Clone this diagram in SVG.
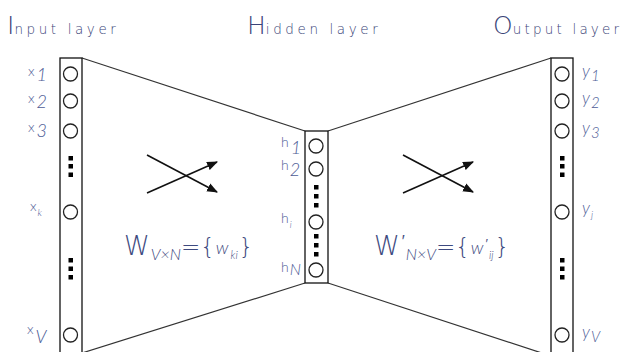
<svg xmlns="http://www.w3.org/2000/svg" width="629" height="352" viewBox="0 0 629 352">
<defs>
<marker id="ah" viewBox="0 0 10 8" refX="9" refY="4" markerWidth="11" markerHeight="9" markerUnits="userSpaceOnUse" orient="auto">
<path d="M0,0 L10,4 L0,8 Z" fill="#111"/>
</marker>
<style>
.box{fill:#fff;stroke:#111;stroke-width:1.3}
.nd{fill:#fff;stroke:#222;stroke-width:1.3}
.dot{fill:#000}
.edge{stroke:#333;stroke-width:1.2;fill:none}
.cross{stroke:#111;stroke-width:1.6;fill:none}
.title{font-family:"DejaVu Sans","Liberation Sans",sans-serif;font-weight:300;fill:#3a4478}
.lbl{font-family:Lato,"Liberation Sans",sans-serif;font-weight:300;fill:#4e5c96}
.it{font-style:italic;font-family:Lato,"Liberation Sans",sans-serif;font-weight:300}
.frm{font-family:"DejaVu Sans","Liberation Sans",sans-serif;font-weight:300;fill:#3e4a80}
</style>
</defs>
<rect width="629" height="352" fill="#fff"/>

<g id="connectors">
<line class="edge" x1="82" y1="58" x2="305" y2="131"/>
<line class="edge" x1="328" y1="131" x2="551" y2="58"/>
<line class="edge" x1="305" y1="283" x2="82" y2="353"/>
<line class="edge" x1="328" y1="283" x2="551" y2="356"/>
<line class="cross" x1="147" y1="155" x2="217" y2="192" marker-end="url(#ah)"/>
<line class="cross" x1="147" y1="193" x2="217" y2="162" marker-end="url(#ah)"/>
<line class="cross" x1="403" y1="155" x2="473" y2="192" marker-end="url(#ah)"/>
<line class="cross" x1="403" y1="193" x2="473" y2="162" marker-end="url(#ah)"/>
</g>

<g id="titles">
<text class="title" x="7" y="34"><tspan font-size="25">I</tspan><tspan font-size="13.5" letter-spacing="3.6">nput layer</tspan></text>
<text class="title" x="247" y="34"><tspan font-size="25">H</tspan><tspan font-size="13.5" letter-spacing="3.6">idden layer</tspan></text>
<text class="title" x="493" y="34"><tspan font-size="25">O</tspan><tspan font-size="13.5" letter-spacing="3.2">utput layer</tspan></text>
</g>

<g id="input-layer">
<rect class="box" x="60" y="58" width="22" height="300"/>
<circle class="nd" cx="70.5" cy="74" r="7"/>
<circle class="nd" cx="70.5" cy="101" r="7"/>
<circle class="nd" cx="70.5" cy="131" r="7"/>
<rect class="dot" x="68.5" y="156" width="4.5" height="4.5"/>
<rect class="dot" x="68.5" y="164" width="4.5" height="4.5"/>
<rect class="dot" x="68.5" y="172.5" width="4.5" height="4.5"/>
<circle class="nd" cx="70.5" cy="212" r="7"/>
<rect class="dot" x="68.5" y="258" width="4.5" height="4.5"/>
<rect class="dot" x="68.5" y="266.5" width="4.5" height="4.5"/>
<rect class="dot" x="68.5" y="275" width="4.5" height="4.5"/>
<circle class="nd" cx="70.5" cy="335" r="7"/>
<text class="lbl" x="28" y="76" font-size="14">x<tspan class="it" font-size="18" dx="2" dy="5">1</tspan></text>
<text class="lbl" x="28" y="103" font-size="14">x<tspan class="it" font-size="18" dx="2" dy="5">2</tspan></text>
<text class="lbl" x="28" y="132" font-size="14">x<tspan class="it" font-size="18" dx="2" dy="5">3</tspan></text>
<text class="lbl" x="30" y="211" font-size="14">x<tspan class="it" font-size="10" dx="1" dy="5">k</tspan></text>
<text class="lbl" x="27" y="334" font-size="14">x<tspan class="it" font-size="18" dx="2" dy="9">V</tspan></text>
</g>

<g id="hidden-layer">
<rect class="box" x="305" y="131" width="23" height="152"/>
<circle class="nd" cx="316" cy="146" r="7"/>
<circle class="nd" cx="316" cy="169" r="7"/>
<rect class="dot" x="314" y="185" width="4.5" height="4.5"/>
<rect class="dot" x="314" y="194" width="4.5" height="4.5"/>
<rect class="dot" x="314" y="203" width="4.5" height="4.5"/>
<circle class="nd" cx="316" cy="222" r="7"/>
<rect class="dot" x="314" y="234" width="4.5" height="4.5"/>
<rect class="dot" x="314" y="243" width="4.5" height="4.5"/>
<rect class="dot" x="314" y="252" width="4.5" height="4.5"/>
<circle class="nd" cx="316" cy="270" r="7"/>
<text class="lbl" x="281" y="147" font-size="14">h<tspan class="it" font-size="18" dx="2" dy="7">1</tspan></text>
<text class="lbl" x="281" y="170" font-size="14">h<tspan class="it" font-size="18" dx="1" dy="6">2</tspan></text>
<text class="lbl" x="281" y="223" font-size="14">h<tspan class="it" font-size="9" dx="1" dy="5">i</tspan></text>
<text class="lbl" x="281" y="272" font-size="14">h<tspan class="it" font-size="16" dx="1" dy="3">N</tspan></text>
</g>

<g id="output-layer">
<rect class="box" x="551" y="58" width="22" height="300"/>
<circle class="nd" cx="562" cy="74" r="7"/>
<circle class="nd" cx="562" cy="101" r="7"/>
<circle class="nd" cx="562" cy="131" r="7"/>
<rect class="dot" x="560" y="156" width="4.5" height="4.5"/>
<rect class="dot" x="560" y="164" width="4.5" height="4.5"/>
<rect class="dot" x="560" y="172.5" width="4.5" height="4.5"/>
<circle class="nd" cx="562" cy="212" r="7"/>
<rect class="dot" x="560" y="258" width="4.5" height="4.5"/>
<rect class="dot" x="560" y="266.5" width="4.5" height="4.5"/>
<rect class="dot" x="560" y="275" width="4.5" height="4.5"/>
<circle class="nd" cx="562" cy="335" r="7"/>
<text class="lbl it" x="582" y="77" font-size="17">y<tspan font-size="15" dx="1" dy="4">1</tspan></text>
<text class="lbl it" x="582" y="104" font-size="17">y<tspan font-size="15" dx="1" dy="4">2</tspan></text>
<text class="lbl it" x="582" y="134" font-size="17">y<tspan font-size="15" dx="1" dy="4">3</tspan></text>
<text class="lbl it" x="582" y="214" font-size="17">y<tspan font-size="10" dx="1" dy="4">j</tspan></text>
<text class="lbl it" x="582" y="338" font-size="17">y<tspan font-size="15" dx="1" dy="4">V</tspan></text>
</g>

<g id="weights">
<text class="frm" x="124" y="255" font-size="26">W<tspan class="it" font-size="16" dx="1" dy="5">V×N</tspan><tspan font-size="23" dy="-5">={</tspan><tspan class="it" font-size="18" dx="1" dy="-1">w</tspan><tspan class="it" font-size="11" dx="2" dy="5">ki</tspan><tspan font-size="23" dx="1" dy="-4">}</tspan></text>
<text class="frm" x="374" y="255" font-size="26">W<tspan font-size="16" dx="2" dy="-8">′</tspan><tspan class="it" font-size="16" dx="1" dy="13">N×V</tspan><tspan font-size="23" dy="-5">={</tspan><tspan class="it" font-size="18" dx="1" dy="-1">w</tspan><tspan font-size="13" dx="2" dy="-6">′</tspan><tspan class="it" font-size="11" dx="1" dy="11">ij</tspan><tspan font-size="23" dx="1" dy="-4">}</tspan></text>
</g>
</svg>
